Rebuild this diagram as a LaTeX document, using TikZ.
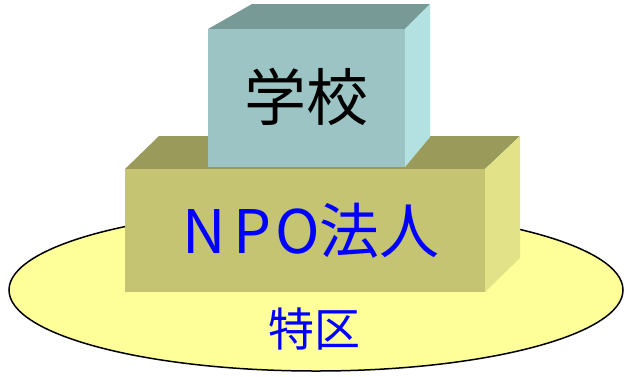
\documentclass[tikz,border=0pt]{standalone}
\usepackage{fontspec}
\newfontfamily\cjk{Noto Sans CJK JP}
\definecolor{ellfill}{HTML}{FFFF99}
\definecolor{npofront}{HTML}{C4C472}
\definecolor{npotop}{HTML}{9A9A5A}
\definecolor{nposide}{HTML}{E2E288}
\definecolor{schfront}{HTML}{9DC4C4}
\definecolor{schtop}{HTML}{789A97}
\definecolor{schside}{HTML}{B3E1E1}
\definecolor{txtblue}{HTML}{0000FF}
\tikzset{
  face/.style={draw=none},
  lbl/.style={inner sep=0pt, font=\cjk}
}
\begin{document}
\begin{tikzpicture}[x=1pt,y=-1pt]
\useasboundingbox (0,0) rectangle (624,376);
% ellipse (special district)
\draw[line width=1.5pt, fill=ellfill] (316,290) ellipse [x radius=307, y radius=81];
% NPO box
\fill[npotop] (125,169) -- (159,136) -- (520,136) -- (485,169) -- cycle;
\fill[nposide] (485,169) -- (520,136) -- (520,258) -- (485,292) -- cycle;
\fill[npofront] (125,169) rectangle (485,292);
% school box
\fill[schtop] (208,29) -- (252,4) -- (430,4) -- (405,29) -- cycle;
\fill[schside] (405,29) -- (430,4) -- (430,137) -- (405,167) -- cycle;
\fill[schfront] (208,29) rectangle (405,167);
% labels
\node[lbl, font=\cjk\fontsize{62}{62}\selectfont, text=black] (school) at (306,97) {学校};
\node[lbl, font=\cjk\fontsize{60}{60}\selectfont, text=txtblue] (npo) at (311,231) {N\hspace{8pt}P\hspace{4pt}O法人};
\node[lbl, font=\cjk\fontsize{46}{46}\selectfont, text=txtblue] (tokku) at (314,329) {特区};
\end{tikzpicture}
\end{document}
